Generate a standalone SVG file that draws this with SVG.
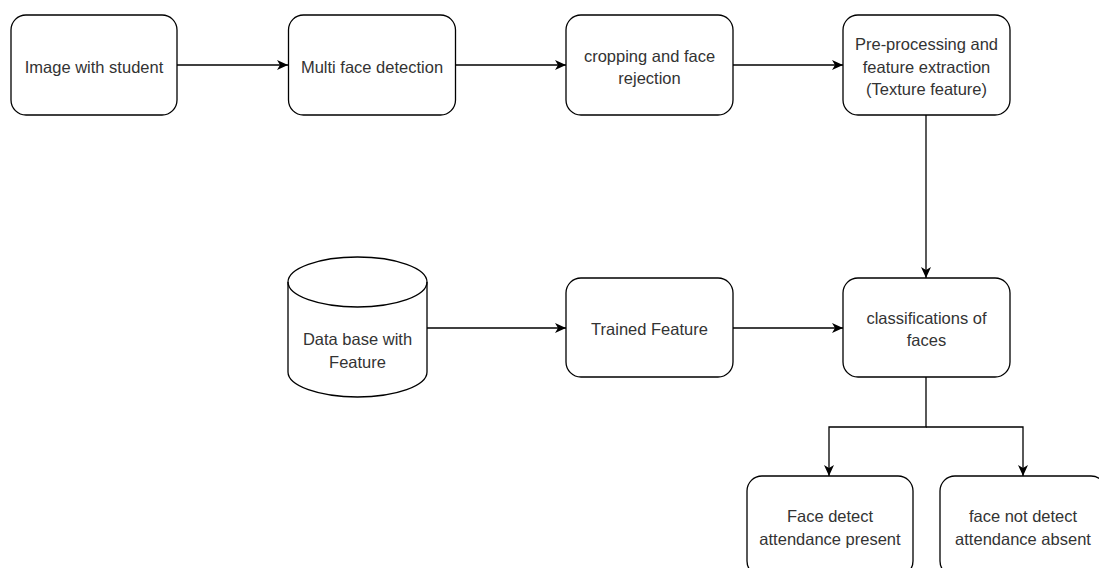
<svg xmlns="http://www.w3.org/2000/svg" width="1099" height="568" viewBox="0 0 1099 568">
<defs>
<style>
.box{fill:#fff;stroke:#000;stroke-width:1.3}
.t{font-family:"Liberation Sans",Arial,sans-serif;font-size:16.5px;fill:#333;text-anchor:middle}
.c{fill:none;stroke:#000;stroke-width:1.3}
</style>
<marker id="ah" markerUnits="userSpaceOnUse" markerWidth="13" markerHeight="12" refX="11" refY="5" orient="auto">
<path d="M0,0 L11,5 L0,10 L3,5 Z" fill="#000"/>
</marker>
</defs>
<rect width="1099" height="568" fill="#fff"/>
<g id="connectors">
<line class="c" x1="177" y1="65" x2="288" y2="65" marker-end="url(#ah)"/>
<line class="c" x1="455" y1="65" x2="566" y2="65" marker-end="url(#ah)"/>
<line class="c" x1="733" y1="65" x2="843" y2="65" marker-end="url(#ah)"/>
<line class="c" x1="926" y1="115" x2="926" y2="278" marker-end="url(#ah)"/>
<line class="c" x1="427" y1="328" x2="566" y2="328" marker-end="url(#ah)"/>
<line class="c" x1="733" y1="328" x2="843" y2="328" marker-end="url(#ah)"/>
<polyline class="c" points="926,377 926,427 829,427 829,476" marker-end="url(#ah)"/>
<polyline class="c" points="926,427 1023,427 1023,476" marker-end="url(#ah)"/>
</g>
<g id="n1">
<rect class="box" x="11" y="15" width="166" height="100" rx="15"/>
<text class="t" x="94" y="72.5">Image with student</text>
</g>
<g id="n2">
<rect class="box" x="288.5" y="15" width="167" height="100" rx="15"/>
<text class="t" x="372" y="72.5">Multi face detection</text>
</g>
<g id="n3">
<rect class="box" x="566" y="15" width="167" height="100" rx="15"/>
<text class="t" x="649.5" y="61.5">cropping and face</text>
<text class="t" x="649.5" y="84">rejection</text>
</g>
<g id="n4">
<rect class="box" x="843" y="15" width="167" height="100" rx="15"/>
<text class="t" x="926.5" y="50">Pre-processing and</text>
<text class="t" x="926.5" y="72.5">feature extraction</text>
<text class="t" x="926.5" y="95">(Texture feature)</text>
</g>
<g id="n5">
<path class="box" d="M288,282 A69.5,25 0 0 1 427,282 L427,372 A69.5,25 0 0 1 288,372 Z"/>
<path class="c" d="M288,282 A69.5,25 0 0 0 427,282"/>
<text class="t" x="357.5" y="345">Data base with</text>
<text class="t" x="357.5" y="367.5">Feature</text>
</g>
<g id="n6">
<rect class="box" x="566" y="278" width="167" height="99" rx="15"/>
<text class="t" x="649.5" y="335">Trained Feature</text>
</g>
<g id="n7">
<rect class="box" x="843" y="278" width="167" height="99" rx="15"/>
<text class="t" x="926.5" y="323.5">classifications of</text>
<text class="t" x="926.5" y="346">faces</text>
</g>
<g id="n8">
<rect class="box" x="747" y="476" width="166" height="100" rx="15"/>
<text class="t" x="830" y="522">Face detect</text>
<text class="t" x="830" y="544.5">attendance present</text>
</g>
<g id="n9">
<rect class="box" x="940" y="476" width="166" height="100" rx="15"/>
<text class="t" x="1023" y="522">face not detect</text>
<text class="t" x="1023" y="544.5">attendance absent</text>
</g>
</svg>
